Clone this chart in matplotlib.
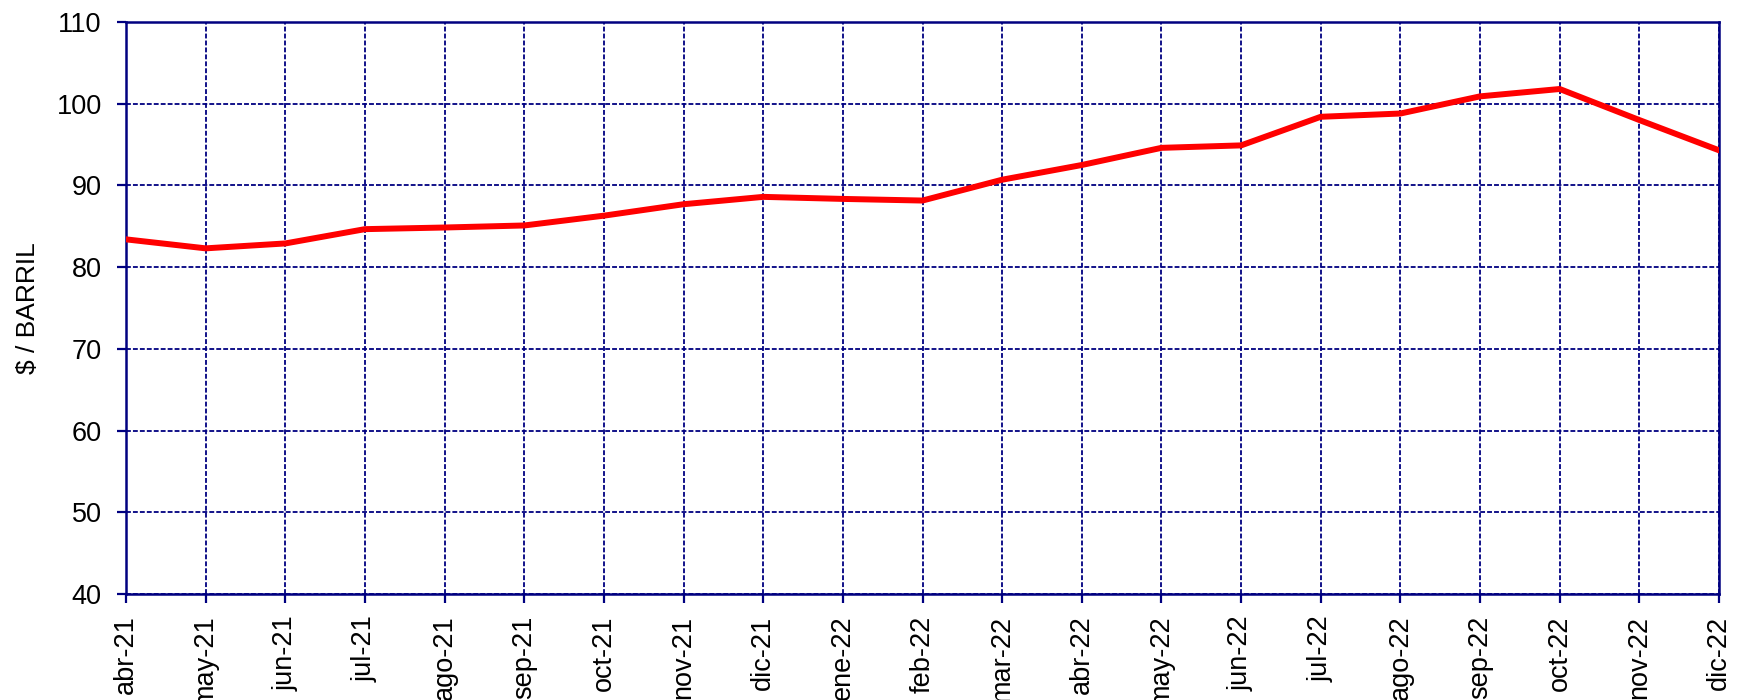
import matplotlib
matplotlib.use("Agg")
import matplotlib.pyplot as plt

plt.rcParams['font.family'] = ['Liberation Sans', 'DejaVu Sans']
plt.rcParams['lines.scale_dashes'] = False

# monthly price, $ per barrel
months = ['abr-21', 'may-21', 'jun-21', 'jul-21', 'ago-21', 'sep-21', 'oct-21',
          'nov-21', 'dic-21', 'ene-22', 'feb-22', 'mar-22', 'abr-22', 'may-22',
          'jun-22', 'jul-22', 'ago-22', 'sep-22', 'oct-22', 'nov-22', 'dic-22']
price = [83.4, 82.3, 82.9, 84.65, 84.85, 85.1, 86.3,
         87.7, 88.6, 88.35, 88.15, 90.7, 92.5, 94.6,
         94.9, 98.4, 98.8, 100.9, 101.8, 98.0, 94.3]

yticks = [40, 50, 60, 70, 80, 90, 100, 110]

navy = '#000080'

fig = plt.figure(figsize=(17.37, 7.0), dpi=100)
ax = fig.add_axes([126 / 1737, 1 - 594 / 700, (1719 - 126) / 1737, (594 - 22) / 700])

x = list(range(len(months)))
ax.plot(x, price, color='#ff0000', linewidth=4.3, zorder=3, solid_joinstyle='round')

ax.set_xlim(0, len(months) - 1)
ax.set_ylim(40, 110)
ax.set_xticks(x)
ax.set_xticklabels(months, rotation=90, fontsize=19.5)
ax.set_yticks(yticks)
ax.set_yticklabels([str(v) for v in yticks], fontsize=19.5)

ax.grid(True, color=navy, linestyle=(0, (3.5, 1.5)), linewidth=1.3, zorder=1)
for s in ax.spines.values():
    s.set_color(navy)
    s.set_linewidth(1.8)
    s.set_zorder(2)
ax.tick_params(axis='both', direction='out', length=6.5, width=1.6, color=navy)
ax.tick_params(axis='y', pad=11)
ax.tick_params(axis='x', pad=9)

ax.set_ylabel('$ / BARRIL', fontsize=19, labelpad=12)

fig.savefig('out.png', dpi=100)
